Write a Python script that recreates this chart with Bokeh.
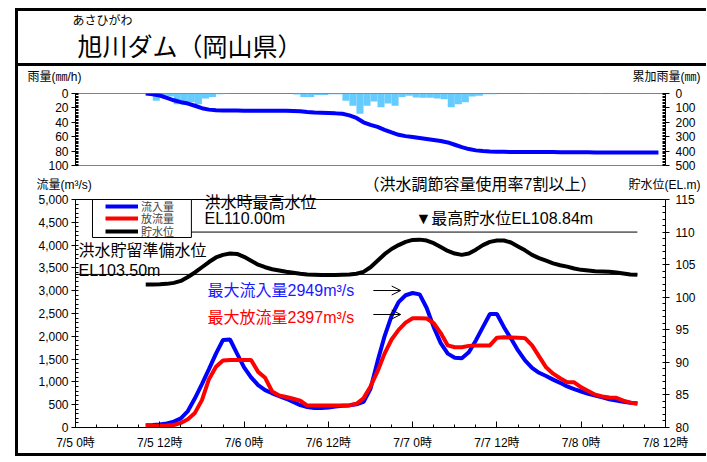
from bokeh.plotting import figure
from bokeh.models import (Range1d, LinearAxis, SingleIntervalTicker, FixedTicker,
                          NumeralTickFormatter, Label, Legend, LegendItem,
                          BoxAnnotation, Arrow, OpenHead, Span, Div)
from bokeh.layouts import column
from bokeh.embed import file_html
from bokeh.resources import INLINE

FONT = "Liberation Sans, Noto Sans CJK JP"

# ---------------- data (hours counted from 7/5 0時) ----------------
flow_hours = list(range(10, 81))
inflow = [
    50, 55, 65, 90, 130, 200, 360, 640, 950, 1280,          # 10-19
    1620, 1920, 1930, 1620, 1320, 1100, 930, 820, 750, 690,  # 20-29
    630, 560, 490, 450, 430, 430, 440, 460, 475, 485,        # 30-39
    510, 560, 850, 1450, 2000, 2450, 2750, 2900, 2949, 2920, # 40-49
    2620, 2200, 1850, 1620, 1530, 1520, 1650, 1910, 2200, 2490,  # 50-59
    2490, 2200, 1950, 1690, 1470, 1310, 1200, 1130, 1050, 980,   # 60-69
    900, 840, 790, 740, 700, 660, 620, 590, 565, 545, 525,       # 70-80
]
outflow = [
    40, 40, 40, 45, 55, 100, 180, 320, 600, 1060,            # 10-19
    1330, 1470, 1480, 1480, 1480, 1480, 1220, 1090, 790, 700, # 20-29
    670, 630, 590, 480, 480, 480, 480, 480, 485, 490,        # 30-39
    520, 640, 900, 1230, 1620, 1930, 2140, 2300, 2397, 2397, # 40-49
    2390, 2290, 2070, 1800, 1760, 1760, 1790, 1800, 1800, 1800,  # 50-59
    1970, 1980, 1975, 1970, 1960, 1800, 1560, 1320, 1180, 1080,  # 60-69
    995, 990, 880, 800, 720, 680, 660, 650, 590, 545, 525,       # 70-80
]
level = [
    101.95, 101.97, 101.99, 102.05, 102.2, 102.5, 103.1, 103.8, 104.6, 105.4,   # 10-19
    106.1, 106.5, 106.7, 106.65, 106.2, 105.6, 105.0, 104.6, 104.3, 104.1,      # 20-29
    103.9, 103.75, 103.6, 103.5, 103.45, 103.4, 103.4, 103.4, 103.45, 103.5,    # 30-39
    103.6, 103.9, 104.6, 105.6, 106.6, 107.4, 108.0, 108.5, 108.8, 108.84,      # 40-49
    108.7, 108.3, 107.7, 107.1, 106.7, 106.5, 106.7, 107.3, 108.0, 108.5,       # 50-59
    108.7, 108.7, 108.4, 107.8, 107.2, 106.5, 106.0, 105.6, 105.2, 104.9,       # 60-69
    104.7, 104.4, 104.2, 104.1, 104.0, 103.95, 103.9, 103.8, 103.65, 103.5, 103.45,  # 70-80
]

rain_hours = list(range(11, 84))   # hour-ending rainfall (mm/h)
rain = [
    2, 10, 4, 4, 15, 16, 12, 15, 7, 5, 1, 0.5,               # 11-22
    0, 0, 0, 0, 0, 0, 0, 0, 0,                               # 23-31
    1.5, 5, 5, 2, 2, 1, 1, 10, 17, 28, 17, 11, 19, 14, 17,   # 32-46
    5, 3, 5.5, 6, 6, 7, 8, 19, 15, 12, 4, 3, 1, 1,           # 47-60
    0, 0, 0, 0, 0.5, 0.5, 0, 0, 0, 0, 0, 0.5,                # 61-72
    0, 0.5, 0.5, 0, 0, 0, 0, 0, 0, 0, 0,                     # 73-83
]
cum_hours = list(range(10, 84))
cum_rain = [
    0, 5, 14, 30, 47, 60, 70, 85, 102, 112, 117, 118,        # 10-21
    118, 118, 119, 119, 119, 119, 119, 120, 120, 121,        # 22-31
    123, 128, 132, 134, 136, 138, 141, 152, 170, 200,        # 32-41
    218, 232, 252, 270, 287, 296, 302, 309, 316, 323,        # 42-51
    330, 340, 356, 372, 386, 395, 400, 403, 405,             # 52-60
    405, 406, 406, 406, 407, 407, 407, 407, 408, 408, 408, 408,  # 61-72
    408, 409, 409, 409, 409, 409, 409, 410, 410, 410, 410,       # 73-83
]

ref_levels = [110.0, 103.5]
ref_start = [10, 0]
ref_end = [80, 80]

legend_labels = ["流入量", "放流量", "貯水位"]
tick_hours = [0, 12, 24, 36, 48, 60, 72, 84]
tick_labels = ["7/5 0時", "7/5 12時", "7/6 0時", "7/6 12時",
               "7/7 0時", "7/7 12時", "7/8 0時", "7/8 12時"]

W = 688
x_range = Range1d(0, 84)


def style_axis(ax, side):
    ax.axis_line_color = "black"
    ax.major_tick_line_color = "black"
    ax.minor_tick_line_color = "black"
    ax.major_label_text_font = FONT
    ax.major_label_text_font_size = "12px"
    ax.major_label_text_color = "black"
    if side in ("left", "right"):
        ax.major_tick_out = 4
        ax.major_tick_in = 0
        ax.minor_tick_out = 0
        ax.minor_tick_in = 3
        ax.major_label_standoff = 3 if side == "left" else 6
    else:
        ax.major_tick_out = 0
        ax.major_tick_in = 6
        ax.minor_tick_out = 0
        ax.minor_tick_in = 3
        ax.major_label_standoff = 8


def strip(h):
    f = figure(width=W, height=h, x_range=Range1d(0, W), y_range=Range1d(0, h),
               x_axis_type=None, y_axis_type=None, min_border=0,
               toolbar_location=None, output_backend="svg")
    f.outline_line_color = None
    f.grid.visible = False
    return f


def txt(fig, x, y, text, size="16px", color="black", align="left"):
    fig.add_layout(Label(x=x, y=y, text=text, text_font=FONT, text_font_size=size,
                         text_color=color, text_baseline="middle", text_align=align))


# ---------------- title (pixel coordinates, y up from strip bottom) ----------------
tf = strip(52)
txt(tf, 54, 43, "あさひがわ", size="12px")
txt(tf, 59, 16.5, "旭川ダム（岡山県）", size="25px")
sep = Div(text="", width=W, height=3, margin=0, styles={"background-color": "black"})

# ---------------- rainfall header strip ----------------
s1 = strip(19)
txt(s1, 9, 9, "雨量(㎜/h)", size="12px")
txt(s1, 682, 9, "累加雨量(㎜)", size="12px", align="right")

# ---------------- rainfall ----------------
rf = figure(width=W, height=87, x_range=x_range, y_range=Range1d(100, 0),
            x_axis_location=None, min_border_left=57, min_border_right=41,
            min_border_top=8, min_border_bottom=7,
            toolbar_location=None, output_backend="svg")
rf.grid.visible = False
rf.outline_line_color = "#7f7f7f"
rf.extra_y_ranges = {"cum": Range1d(500, 0)}
rf.yaxis.ticker = SingleIntervalTicker(interval=20, num_minor_ticks=10)
style_axis(rf.yaxis[0], "left")
rax = LinearAxis(y_range_name="cum", ticker=SingleIntervalTicker(interval=100, num_minor_ticks=10))
style_axis(rax, "right")
rf.add_layout(rax, "right")
rf.vbar(x=[h - 0.5 for h in rain_hours], width=1, top=rain, bottom=0,
        fill_color="#66CCFF", line_color=None)
rf.line(cum_hours, cum_rain, y_range_name="cum", line_color="#0000FF", line_width=4)

# ---------------- flow header strip ----------------
s2 = strip(21)
txt(s2, 18, 8.5, "流量(m³/s)", size="12px")
txt(s2, 345, 9.5, "（洪水調節容量使用率7割以上）")
txt(s2, 682, 8.5, "貯水位(EL.m)", size="12px", align="right")

# ---------------- flow / level ----------------
FH = 234   # frame height in px (228 px plot area + room above it)
p = figure(width=W, height=260, x_range=x_range, y_range=Range1d(0, 5000 * FH / 228),
           min_border_left=57, min_border_right=41, min_border_top=0, min_border_bottom=26,
           toolbar_location=None, output_backend="svg")
p.grid.visible = False
p.outline_line_color = None
p.extra_y_ranges = {"level": Range1d(80, 80 + 35 * FH / 228)}
p.yaxis.ticker = SingleIntervalTicker(interval=500, num_minor_ticks=5)
p.yaxis.formatter = NumeralTickFormatter(format="0,0")
p.yaxis.bounds = (0, 5000)
style_axis(p.yaxis[0], "left")
lax = LinearAxis(y_range_name="level", bounds=(80, 115),
                 ticker=SingleIntervalTicker(interval=5, num_minor_ticks=5))
style_axis(lax, "right")
p.add_layout(lax, "right")
p.xaxis.ticker = FixedTicker(ticks=tick_hours, minor_ticks=list(range(0, 85, 3)))
p.xaxis.major_label_overrides = dict(zip(tick_hours, tick_labels))
style_axis(p.xaxis[0], "below")
p.add_layout(Span(location=5000, dimension="width", line_color="black", line_width=1))

p.segment(x0=ref_start, y0=ref_levels, x1=ref_end, y1=ref_levels,
          y_range_name="level", line_color="black", line_width=1)
r_in = p.line(flow_hours, inflow, line_color="#0000FF", line_width=4)
r_out = p.line(flow_hours, outflow, line_color="#FF0000", line_width=4)
r_lv = p.line(flow_hours, level, y_range_name="level", line_color="black", line_width=4)

p.add_layout(BoxAnnotation(left=2.42, right=16.5, top=5000, bottom=4167,
                           fill_color="white", fill_alpha=1, line_color="black",
                           line_width=1, line_alpha=1))
for lab, rend, vy in zip(legend_labels, [r_in, r_out, r_lv], [212.5, 200.0, 187.5]):
    p.add_layout(Legend(items=[LegendItem(label=lab, renderers=[rend])],
                        location=(30, vy), glyph_width=33, glyph_height=18, label_height=18,
                        spacing=0, padding=0, margin=0, label_standoff=3,
                        label_text_font=FONT, label_text_font_size="11px",
                        border_line_alpha=0, background_fill_alpha=0), "center")

txt(p, 18.37, 4940, "洪水時最高水位")
txt(p, 18.37, 4583, "EL110.00m")
txt(p, 0.43, 3882, "洪水貯留準備水位")
txt(p, 0.43, 3443, "EL103.50m")
txt(p, 48.4, 4583, "▼最高貯水位EL108.84m")
txt(p, 18.8, 3004, "最大流入量2949m³/s", color="#1a1aff")
txt(p, 18.8, 2412, "最大放流量2397m³/s", color="#ff0000")

for yv in (3004, 2478):
    p.add_layout(Arrow(end=OpenHead(size=9, line_width=1, line_color="black"),
                       x_start=42.4, y_start=yv, x_end=46.3, y_end=yv,
                       line_width=1, line_color="black"))

layout = column(column(tf), sep, column(s1), rf, column(s2), p, margin=(8, 0, 0, 15),
                styles={"border-top": "3px solid black",
                        "border-left": "3px solid black",
                        "border-bottom": "3px solid black"})

open("out.html", "w").write(file_html(layout, INLINE))
